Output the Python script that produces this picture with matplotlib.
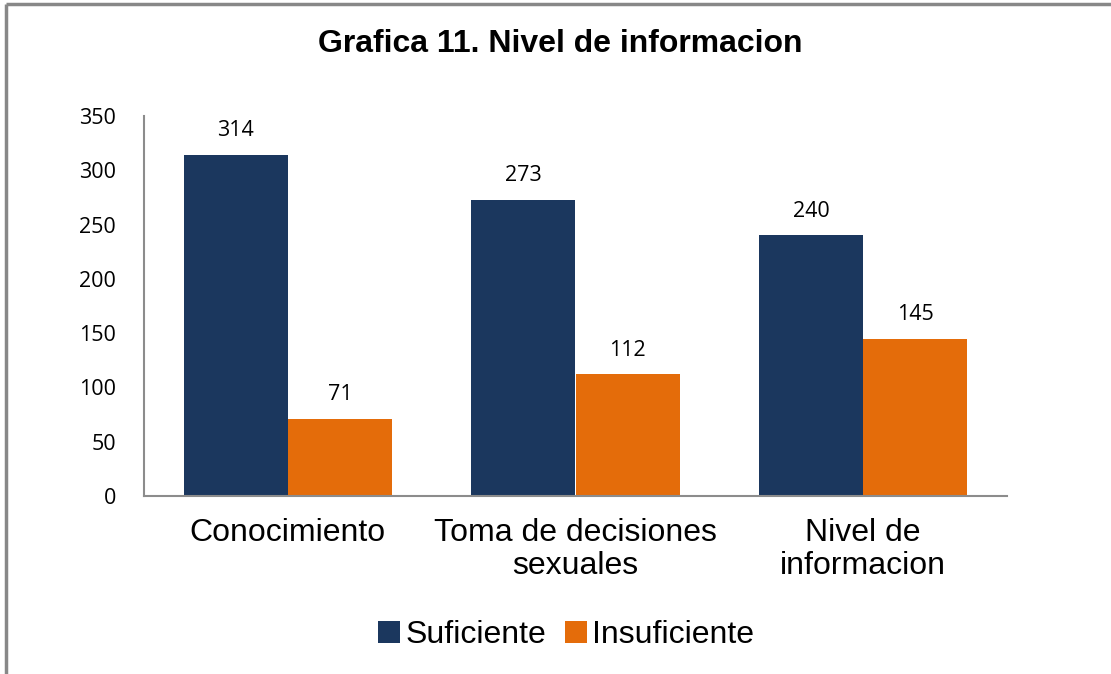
import matplotlib
matplotlib.use("Agg")
import matplotlib.pyplot as plt
import numpy as np

categories = ["Conocimiento", "Toma de decisiones\nsexuales", "Nivel de\ninformacion"]
suficiente = [314, 273, 240]
insuficiente = [71, 112, 145]
series_names = ["Suficiente", "Insuficiente"]
yticks = [0, 50, 100, 150, 200, 250, 300, 350]
title = "Grafica 11. Nivel de informacion"

navy = "#1B375E"
orange = "#E46C0A"

fig = plt.figure(figsize=(11.11, 6.74), dpi=100)
# figure border (left and top)
fig.add_artist(plt.Line2D([0.0054, 0.0054], [0, 0.994], transform=fig.transFigure,
                          color="#888888", lw=2.5, solid_capstyle="butt"))
fig.add_artist(plt.Line2D([0.0054, 1.0], [0.994, 0.994], transform=fig.transFigure,
                          color="#888888", lw=2.5, solid_capstyle="butt"))

ax = fig.add_axes([144/1111, 1-496/674, (1007-144)/1111, (496-116)/674])
x = np.arange(len(categories))
w = 0.362
b1 = ax.bar(x - w/2, suficiente, w, color=navy, label=series_names[0])
b2 = ax.bar(x + w/2, insuficiente, w, color=orange, label=series_names[1])
ax.set_xlim(-0.5, len(categories) - 0.5)
ax.set_ylim(0, 350)
ax.set_yticks(yticks)
ax.set_yticklabels([str(t) for t in yticks], fontsize=15.5, family="Open Sans")
ax.tick_params(axis="y", length=0, pad=20)
ax.set_xticks(x)
ax.set_xticklabels(categories, fontsize=23, family="Liberation Sans", linespacing=1.1)
ax.tick_params(axis="x", length=0, pad=16)
for s in ["top", "right"]:
    ax.spines[s].set_visible(False)
for s in ["left", "bottom"]:
    ax.spines[s].set_color("#8C8C8C")
    ax.spines[s].set_linewidth(1.5)

for bars, vals in ((b1, suficiente), (b2, insuficiente)):
    for r, v in zip(bars, vals):
        ax.annotate(str(v), (r.get_x() + r.get_width()/2, v), xytext=(0, 10),
                    textcoords="offset points", ha="center", va="bottom",
                    fontsize=15.5, family="Open Sans")

fig.text(560/1111, 1-44/674, title, ha="center", va="center", fontsize=23,
         fontweight="bold", family="Liberation Sans")

leg = fig.legend(loc="center", bbox_to_anchor=(566/1111, 1-635/674), ncol=2,
                 frameon=False, prop={"family": "Liberation Sans", "size": 23},
                 handlelength=0.7, handleheight=0.7, handletextpad=0.15, columnspacing=0.6)

fig.savefig("out.png", dpi=100)
